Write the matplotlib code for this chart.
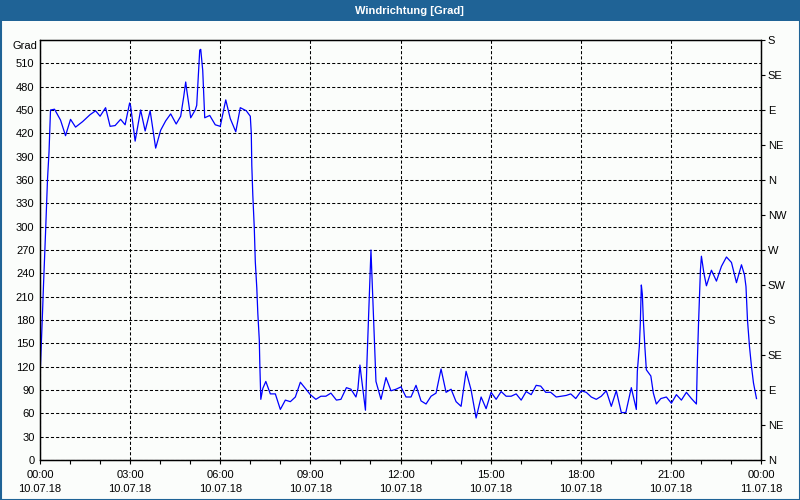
import matplotlib
matplotlib.use("Agg")
import matplotlib.pyplot as plt
from matplotlib.patches import Rectangle

# Messzeitpunkte (Minuten ab 10.07.18 00:00) und Windrichtung in Grad
minutes = [1, 3, 5, 7, 9, 11, 13, 15, 18, 20, 21, 29, 41, 51, 61, 71, 85, 100, 111, 120,
           131, 140, 150, 161, 170, 179, 181, 190, 201, 210, 220, 231, 241, 251, 261, 272,
           281, 287, 291, 293, 301, 310, 313, 319, 321, 325, 329, 339, 350, 360, 371, 380,
           391, 400, 412, 420, 422, 423, 425, 428, 430, 433, 435, 438, 439, 441, 445, 451,
           460, 470, 480, 490, 500, 510, 520, 530, 540, 551, 561, 571, 581, 592, 601, 612,
           621, 631, 635, 639, 641, 650, 653, 661, 668, 671, 681, 691, 701, 711, 721, 731,
           741, 751, 761, 771, 781, 791, 801, 811, 821, 831, 841, 851, 861, 871, 881, 891,
           901, 911, 921, 931, 941, 951, 961, 971, 981, 991, 1000, 1010, 1020, 1031, 1041,
           1051, 1060, 1070, 1081, 1091, 1101, 1111, 1121, 1131, 1141, 1151, 1161, 1170,
           1181, 1191, 1193, 1197, 1199, 1201, 1203, 1205, 1208, 1211, 1220, 1225, 1231,
           1240, 1251, 1261, 1271, 1281, 1291, 1301, 1311, 1313, 1315, 1317, 1319, 1321,
           1323, 1326, 1331, 1341, 1351, 1361, 1371, 1381, 1391, 1401, 1407, 1410, 1413,
           1417, 1421, 1425, 1431]
grad = [122, 154, 189, 225, 257, 291, 328, 361, 396, 431, 450, 451, 437, 417, 438, 428, 435,
        444, 449, 442, 453, 429, 430, 438, 431, 459, 455, 410, 450, 423, 449, 401, 424, 436,
        445, 432, 442, 467, 486, 476, 440, 450, 456, 527, 528, 501, 440, 443, 431, 429, 463,
        439, 422, 453, 449, 442, 420, 379, 341, 298, 255, 221, 189, 154, 124, 78, 92, 101,
        85, 85, 65, 77, 75, 81, 100, 92, 84, 78, 82, 82, 86, 77, 78, 93, 91, 81, 92, 122,
        111, 64, 126, 270, 154, 101, 78, 106, 89, 91, 94, 81, 81, 96, 76, 72, 82, 86, 117,
        87, 91, 75, 69, 114, 90, 54, 81, 66, 87, 78, 88, 82, 82, 85, 77, 88, 84, 96, 95, 87,
        87, 81, 82, 83, 85, 79, 89, 87, 81, 78, 82, 89, 69, 89, 61, 61, 93, 65, 114, 146,
        176, 225, 213, 180, 146, 116, 108, 86, 72, 79, 81, 73, 84, 77, 87, 79, 72, 129, 171,
        206, 244, 262, 253, 240, 224, 244, 230, 249, 261, 254, 228, 251, 238, 223, 180, 146,
        120, 99, 79]

left_ticks = list(range(0, 511, 30))
right_ticks = list(range(0, 541, 45))
right_labels = ["N", "NE", "E", "SE", "S", "SW", "W", "NW", "N", "NE", "E", "SE", "S"]
x_ticks = list(range(0, 1441, 180))
x_times = ["00:00", "03:00", "06:00", "09:00", "12:00", "15:00", "18:00", "21:00", "00:00"]
x_dates = ["10.07.18"] * 8 + ["11.07.18"]

BG = "#fbfdfb"
BAR = "#1f6396"

plt.rcParams["font.family"] = ["Liberation Sans", "DejaVu Sans"]
plt.rcParams["font.size"] = 8

fig = plt.figure(figsize=(8, 5), dpi=100, facecolor=BG)

# Titelleiste und Rahmen
fig.patches.append(Rectangle((0, 1 - 21 / 500), 1, 21 / 500, transform=fig.transFigure,
                             facecolor=BAR, edgecolor="none", zorder=0))
fig.patches.append(Rectangle((0.5 / 800, 0.5 / 500), 799 / 800, 499 / 500, transform=fig.transFigure,
                             facecolor="none", edgecolor=BAR, linewidth=1.5, zorder=0))
fig.text(409 / 800, 1 - 10.5 / 500, "Windrichtung [Grad]", color="white", fontweight="bold",
         ha="center", va="center", fontsize=8)

ax = fig.add_axes([40 / 800, 1 - 460 / 500, 721 / 800, 420 / 500])
ax.set_facecolor(BG)
ax.plot(minutes, grad, color="#0000ff", linewidth=0.9, zorder=3)

ax.set_xlim(0, 1440)
ax.set_ylim(0, 540)

ax.set_yticks(left_ticks)
ax.tick_params(axis="y", length=0, pad=4, labelsize=8)
ax.set_xticks(x_ticks)
ax.set_xticklabels([f"{t}\n{d}" for t, d in zip(x_times, x_dates)], linespacing=1.55)
ax.set_xticks(range(0, 1441, 60), minor=True)
ax.tick_params(axis="x", which="both", direction="out", length=3, width=0.8, pad=4, labelsize=8)

ax.grid(True, color="black", linestyle=(0, (3, 2)), linewidth=0.75)
for s in ax.spines.values():
    s.set_linewidth(0.9)
    s.set_color("black")

ax2 = ax.twinx()
ax2.set_ylim(0, 540)
ax2.set_yticks(right_ticks)
ax2.set_yticklabels(right_labels)
ax2.tick_params(axis="y", direction="out", length=3, width=0.8, pad=2, labelsize=8)
for s in ax2.spines.values():
    s.set_linewidth(0.9)

fig.text(37 / 800, 1 - 46 / 500, "Grad", ha="right", va="center", fontsize=8)

plt.savefig("out.png", dpi=100, facecolor=BG)
